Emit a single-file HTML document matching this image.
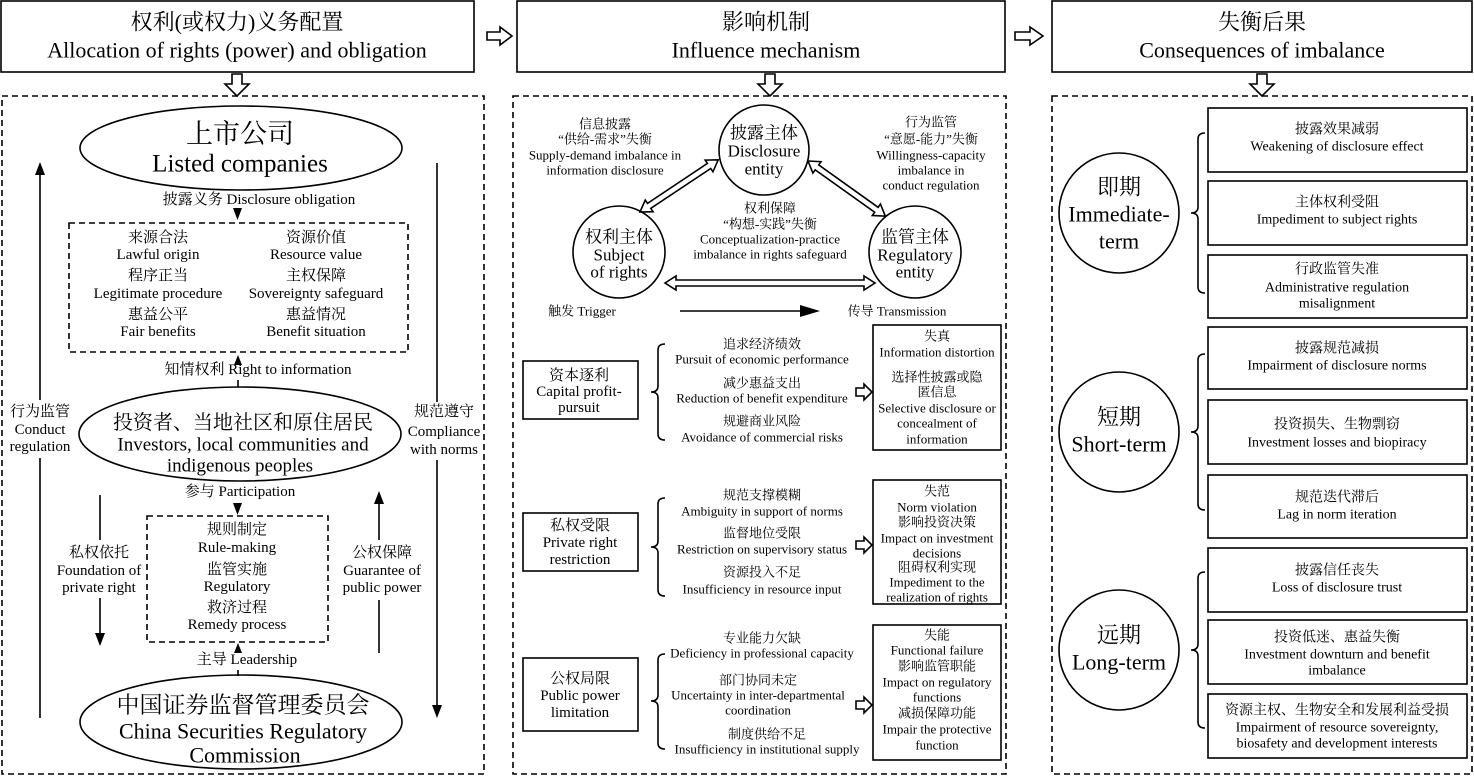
<!DOCTYPE html>
<html><head><meta charset="utf-8">
<style>
html,body{margin:0;padding:0;background:#fff;}
svg{display:block;}
text{font-family:"Liberation Serif","Noto Serif CJK SC","Noto Sans CJK SC",serif;fill:#000;text-anchor:middle;dominant-baseline:central;}
</style></head><body>
<svg width="1474" height="776" viewBox="0 0 1474 776" xmlns="http://www.w3.org/2000/svg">
<g fill="none" stroke="#000" stroke-width="1.6">
<rect x="1" y="1" width="473" height="71"/>
<rect x="517" y="1" width="488" height="71"/>
<rect x="1052" y="1" width="420" height="71"/>
<path d="M487,32 L500,32 L500,27 L512,36 L500,45 L500,40 L487,40 Z"/>
<path d="M1015,32 L1030,32 L1030,27 L1043,36 L1030,45 L1030,40 L1015,40 Z"/>
<path d="M232,74 L242,74 L242,84 L249,84 L237,96 L225,84 L232,84 Z"/>
<path d="M765,74 L775,74 L775,84 L782,84 L770,96 L758,84 L765,84 Z"/>
<path d="M1257,74 L1267,74 L1267,84 L1274,84 L1262,96 L1250,84 L1257,84 Z"/>
<g stroke-dasharray="6,4">
<rect x="2" y="96" width="482" height="678"/>
<rect x="513" y="96" width="493" height="678"/>
<rect x="1052" y="96" width="420" height="678"/>
<rect x="69" y="223" width="339" height="129"/>
<rect x="147" y="516" width="181" height="126"/>
</g>
<ellipse cx="241" cy="148" rx="161" ry="42"/>
<ellipse cx="240" cy="434" rx="161" ry="47"/>
<ellipse cx="241" cy="722" rx="161" ry="47"/>
<line x1="40" y1="170" x2="40" y2="400"/>
<line x1="40" y1="458" x2="40" y2="718"/>
<line x1="437" y1="163" x2="437" y2="402"/>
<line x1="437" y1="460" x2="437" y2="710"/>
<line x1="238" y1="380" x2="238" y2="387"/>
<line x1="100" y1="495" x2="100" y2="540"/>
<line x1="100" y1="598" x2="100" y2="640"/>
<line x1="379" y1="500" x2="379" y2="540"/>
<line x1="379" y1="600" x2="379" y2="653"/>
<line x1="238" y1="670" x2="238" y2="676"/>
<circle cx="764" cy="150" r="45"/>
<circle cx="619" cy="252" r="46"/>
<circle cx="915" cy="252" r="46"/>
<line x1="680" y1="311" x2="810" y2="311"/>
<rect x="523" y="361" width="115" height="58"/>
<rect x="523" y="513" width="115" height="58"/>
<rect x="523" y="658" width="115" height="73"/>
<rect x="873" y="325" width="128" height="125"/>
<rect x="873" y="480" width="128" height="124"/>
<rect x="873" y="625" width="128" height="135"/>
<path d="M665,344 Q658,344 658,350 L658,386 Q658,392 651,392 Q658,392 658,398 L658,434 Q658,440 665,440"/>
<path d="M665,498 Q658,498 658,504 L658,541 Q658,547 651,547 Q658,547 658,553 L658,590 Q658,596 665,596"/>
<path d="M665,654 Q658,654 658,660 L658,695 Q658,701 651,701 Q658,701 658,707 L658,743 Q658,749 665,749"/>
<path d="M1205,133 Q1198,133 1198,139 L1198,207 Q1198,213 1191,213 Q1198,213 1198,219 L1198,287 Q1198,293 1205,293"/>
<path d="M1205,354 Q1198,354 1198,360 L1198,426 Q1198,432 1191,432 Q1198,432 1198,438 L1198,504 Q1198,510 1205,510"/>
<path d="M1205,572 Q1198,572 1198,578 L1198,644 Q1198,650 1191,650 Q1198,650 1198,656 L1198,722 Q1198,728 1205,728"/>
<path d="M856,388 L864,388 L864,384 L872,392 L864,400 L864,396 L856,396 Z"/>
<path d="M856,541 L864,541 L864,537 L872,545 L864,553 L864,549 L856,549 Z"/>
<path d="M856,701 L864,701 L864,697 L872,705 L864,713 L864,709 L856,709 Z"/>
<g transform="translate(640,212) rotate(-33.7)"><path d="M0,0 L11,-7 L11,-3 L83,-3 L83,-7 L94,0 L83,7 L83,3 L11,3 L11,7 Z"/></g>
<g transform="translate(808,161) rotate(35.5)"><path d="M0,0 L11,-7 L11,-3 L84,-3 L84,-7 L95,0 L84,7 L84,3 L11,3 L11,7 Z"/></g>
<path d="M665,283 L676,276 L676,280 L864,280 L864,276 L875,283 L864,290 L864,286 L676,286 L676,290 Z"/>
<circle cx="1119" cy="213" r="60"/>
<circle cx="1119" cy="432" r="60"/>
<circle cx="1119" cy="650" r="60"/>
<rect x="1208" y="108" width="259" height="64"/>
<rect x="1208" y="181" width="259" height="64"/>
<rect x="1208" y="255" width="259" height="63"/>
<rect x="1208" y="327" width="259" height="62"/>
<rect x="1208" y="400" width="259" height="64"/>
<rect x="1208" y="475" width="259" height="63"/>
<rect x="1208" y="548" width="259" height="64"/>
<rect x="1208" y="620" width="259" height="64"/>
<rect x="1208" y="694" width="259" height="64"/>
</g>
<g fill="#000">
<path d="M233,208 L242,208 L237.5,220 Z"/>
<path d="M234,365 L242,365 L238,355 Z"/>
<path d="M233,503 L242,503 L237.5,515 Z"/>
<path d="M234,653 L242,653 L238,643 Z"/>
<path d="M35,175 L45,175 L40,162 Z"/>
<path d="M432,705 L442,705 L437,718 Z"/>
<path d="M95,633 L105,633 L100,646 Z"/>
<path d="M374,504 L384,504 L379,491 Z"/>
<path d="M800,305 L820,311 L800,317 Z"/>
</g>
<text x="237" y="22" font-size="22">权利(或权力)义务配置</text>
<text x="237" y="50" font-size="22">Allocation of rights (power) and obligation</text>
<text x="766" y="22" font-size="22">影响机制</text>
<text x="766" y="50" font-size="22">Influence mechanism</text>
<text x="1262" y="22" font-size="22">失衡后果</text>
<text x="1262" y="50" font-size="22">Consequences of imbalance</text>
<text x="240" y="134" font-size="27">上市公司</text>
<text x="240" y="164" font-size="25">Listed companies</text>
<text x="259" y="200" font-size="15">披露义务 Disclosure obligation</text>
<g font-size="15">
<text x="158" y="238">来源合法</text><text x="158" y="255">Lawful origin</text>
<text x="158" y="276">程序正当</text><text x="158" y="294">Legitimate procedure</text>
<text x="158" y="315">惠益公平</text><text x="158" y="332">Fair benefits</text>
<text x="316" y="238">资源价值</text><text x="316" y="255">Resource value</text>
<text x="316" y="276">主权保障</text><text x="316" y="294">Sovereignty safeguard</text>
<text x="316" y="315">惠益情况</text><text x="316" y="332">Benefit situation</text>
<text x="258" y="370">知情权利 Right to information</text>
<text x="240" y="492">参与 Participation</text>
<text x="247" y="660">主导 Leadership</text>
<text x="237" y="530">规则制定</text><text x="237" y="548">Rule-making</text>
<text x="237" y="570">监管实施</text><text x="237" y="587">Regulatory</text>
<text x="237" y="608">救济过程</text><text x="237" y="625">Remedy process</text>
</g>
<text x="243" y="423" font-size="20">投资者、当地社区和原住居民</text>
<text x="243" y="445" font-size="19">Investors, local communities and</text>
<text x="240" y="466" font-size="19">indigenous peoples</text>
<text x="243" y="705" font-size="23">中国证券监督管理委员会</text>
<text x="243" y="731" font-size="22">China Securities Regulatory</text>
<text x="245" y="755" font-size="22">Commission</text>
<g font-size="15">
<rect x="6" y="402" width="70" height="56" fill="#fff"/>
<text x="40" y="412">行为监管</text><text x="40" y="430">Conduct</text><text x="40" y="447">regulation</text>
<rect x="404" y="403" width="76" height="56" fill="#fff"/>
<text x="444" y="412">规范遵守</text><text x="444" y="432">Compliance</text><text x="444" y="450">with norms</text>
<text x="99" y="553">私权依托</text><text x="99" y="571">Foundation of</text><text x="99" y="588">private right</text>
<text x="382" y="553">公权保障</text><text x="382" y="571">Guarantee of</text><text x="382" y="588">public power</text>
</g>
<g font-size="17">
<text x="764" y="133">披露主体</text><text x="764" y="151">Disclosure</text><text x="764" y="169">entity</text>
<text x="619" y="237">权利主体</text><text x="619" y="255">Subject</text><text x="619" y="272">of rights</text>
<text x="915" y="237">监管主体</text><text x="915" y="255">Regulatory</text><text x="915" y="272">entity</text>
</g>
<g font-size="13">
<text x="605" y="124">信息披露</text><text x="605" y="139">“供给-需求”失衡</text>
<text x="605" y="155">Supply-demand imbalance in</text><text x="605" y="170">information disclosure</text>
<text x="931" y="122">行为监管</text><text x="931" y="139">“意愿-能力”失衡</text>
<text x="931" y="155">Willingness-capacity</text><text x="931" y="170">imbalance in</text><text x="931" y="185">conduct regulation</text>
<text x="770" y="208">权利保障</text><text x="770" y="224">“构想-实践”失衡</text>
<text x="770" y="239">Conceptualization-practice</text><text x="770" y="254">imbalance in rights safeguard</text>
<text x="582" y="311">触发 Trigger</text>
<text x="897" y="311">传导 Transmission</text>
<text x="762" y="344">追求经济绩效</text><text x="762" y="359">Pursuit of economic performance</text>
<text x="762" y="383">减少惠益支出</text><text x="762" y="398">Reduction of benefit expenditure</text>
<text x="762" y="421">规避商业风险</text><text x="762" y="437">Avoidance of commercial risks</text>
<text x="762" y="495">规范支撑模糊</text><text x="762" y="511">Ambiguity in support of norms</text>
<text x="762" y="533">监督地位受限</text><text x="762" y="549">Restriction on supervisory status</text>
<text x="762" y="572">资源投入不足</text><text x="762" y="589">Insufficiency in resource input</text>
<text x="762" y="638">专业能力欠缺</text><text x="762" y="653">Deficiency in professional capacity</text>
<text x="758" y="680">部门协同未定</text><text x="758" y="695">Uncertainty in inter-departmental</text><text x="758" y="710">coordination</text>
<text x="767" y="734">制度供给不足</text><text x="767" y="749">Insufficiency in institutional supply</text>
<text x="937" y="336">失真</text><text x="937" y="352">Information distortion</text>
<text x="937" y="377">选择性披露或隐</text><text x="937" y="392">匿信息</text>
<text x="937" y="408">Selective disclosure or</text><text x="937" y="423">concealment of</text><text x="937" y="439">information</text>
<text x="937" y="491">失范</text><text x="937" y="507">Norm violation</text><text x="937" y="522">影响投资决策</text>
<text x="937" y="538">Impact on investment</text><text x="937" y="553">decisions</text><text x="937" y="567">阻碍权利实现</text>
<text x="937" y="582">Impediment to the</text><text x="937" y="597">realization of rights</text>
<text x="937" y="635">失能</text><text x="937" y="650">Functional failure</text><text x="937" y="666">影响监管职能</text>
<text x="937" y="682">Impact on regulatory</text><text x="937" y="697">functions</text><text x="937" y="713">减损保障功能</text>
<text x="937" y="729">Impair the protective</text><text x="937" y="745">function</text>
</g>
<g font-size="15">
<text x="579" y="376">资本逐利</text><text x="579" y="392">Capital profit-</text><text x="579" y="408">pursuit</text>
<text x="580" y="526">私权受限</text><text x="580" y="543">Private right</text><text x="580" y="560">restriction</text>
<text x="580" y="679">公权局限</text><text x="580" y="696">Public power</text><text x="580" y="713">limitation</text>
</g>
<g font-size="22">
<text x="1119" y="187">即期</text><text x="1119" y="214">Immediate-</text><text x="1119" y="241">term</text>
<text x="1119" y="417">短期</text><text x="1119" y="444">Short-term</text>
<text x="1119" y="635">远期</text><text x="1119" y="662">Long-term</text>
</g>
<g font-size="14">
<text x="1337" y="130">披露效果减弱</text><text x="1337" y="147">Weakening of disclosure effect</text>
<text x="1337" y="203">主体权利受阻</text><text x="1337" y="220">Impediment to subject rights</text>
<text x="1337" y="270">行政监管失准</text><text x="1337" y="288">Administrative regulation</text><text x="1337" y="304">misalignment</text>
<text x="1337" y="349">披露规范减损</text><text x="1337" y="366">Impairment of disclosure norms</text>
<text x="1337" y="425">投资损失、生物剽窃</text><text x="1337" y="443">Investment losses and biopiracy</text>
<text x="1337" y="498">规范迭代滞后</text><text x="1337" y="515">Lag in norm iteration</text>
<text x="1337" y="571">披露信任丧失</text><text x="1337" y="588">Loss of disclosure trust</text>
<text x="1337" y="638">投资低迷、惠益失衡</text><text x="1337" y="655">Investment downturn and benefit</text><text x="1337" y="671">imbalance</text>
<text x="1337" y="711">资源主权、生物安全和发展利益受损</text><text x="1337" y="728">Impairment of resource sovereignty,</text><text x="1337" y="744">biosafety and development interests</text>
</g>
</svg>
</body></html>
